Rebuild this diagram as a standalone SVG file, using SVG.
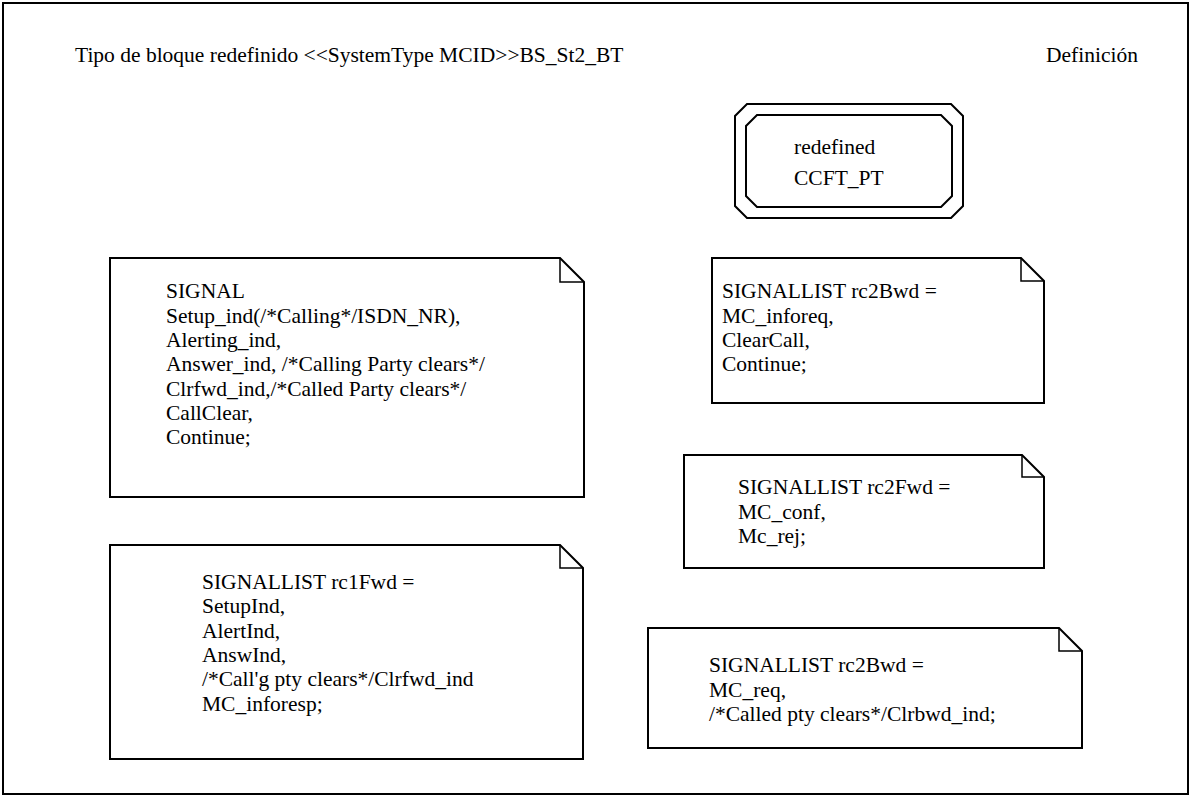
<svg xmlns="http://www.w3.org/2000/svg" width="1192" height="798" viewBox="0 0 1192 798">
<style>
text{font-family:"Liberation Serif",Tinos,Times,"Nimbus Roman","Noto Serif","DejaVu Serif",serif;font-size:21.5px;fill:#000}
.ln{fill:none;stroke:#000;stroke-width:2}
.note{fill:#fff;stroke:#000;stroke-width:2}
.fold{fill:none;stroke:#000;stroke-width:1.5}
</style>
<rect width="1192" height="798" fill="#fff"/>
<g id="frame">
<rect x="3" y="3" width="1185" height="791" class="ln"/>
<text x="75" y="62">Tipo de bloque redefinido &lt;&lt;SystemType MCID&gt;&gt;BS_St2_BT</text>
<text x="1046" y="62">Definición</text>
</g>
<g id="ccft">
<polygon class="ln" points="747,104 951,104 963,116 963,206 951,218 747,218 735,206 735,116"/>
<polygon class="ln" points="757,115 941,115 952,126 952,196 941,207 757,207 746,196 746,126"/>
<text x="794" y="154">redefined</text>
<text x="794" y="185">CCFT_PT</text>
</g>
<g id="note1">
<path class="note" d="M110,258 H560 L584,282 V497 H110 Z"/>
<path class="fold" d="M560,258 V282 H584"/>
<text x="166" y="298">SIGNAL</text>
<text x="166" y="323">Setup_ind(/*Calling*/ISDN_NR),</text>
<text x="166" y="347">Alerting_ind,</text>
<text x="166" y="371">Answer_ind, /*Calling Party clears*/</text>
<text x="166" y="396">Clrfwd_ind,/*Called Party clears*/</text>
<text x="166" y="420">CallClear,</text>
<text x="166" y="444">Continue;</text>
</g>
<g id="note2">
<path class="note" d="M712,258 H1021 L1044,281 V403 H712 Z"/>
<path class="fold" d="M1021,258 V281 H1044"/>
<text x="722" y="298">SIGNALLIST rc2Bwd =</text>
<text x="722" y="323">MC_inforeq,</text>
<text x="722" y="347">ClearCall,</text>
<text x="722" y="371">Continue;</text>
</g>
<g id="note3">
<path class="note" d="M684,455 H1022 L1044,477 V568 H684 Z"/>
<path class="fold" d="M1022,455 V477 H1044"/>
<text x="738" y="494">SIGNALLIST rc2Fwd =</text>
<text x="738" y="519">MC_conf,</text>
<text x="738" y="543">Mc_rej;</text>
</g>
<g id="note4">
<path class="note" d="M110,545 H560 L583,568 V759 H110 Z"/>
<path class="fold" d="M560,545 V568 H583"/>
<text x="202" y="589">SIGNALLIST rc1Fwd =</text>
<text x="202" y="613">SetupInd,</text>
<text x="202" y="638">AlertInd,</text>
<text x="202" y="662">AnswInd,</text>
<text x="202" y="686">/*Call'g pty clears*/Clrfwd_ind</text>
<text x="202" y="711">MC_inforesp;</text>
</g>
<g id="note5">
<path class="note" d="M648,628 H1059 L1082,651 V748 H648 Z"/>
<path class="fold" d="M1059,628 V651 H1082"/>
<text x="709" y="672">SIGNALLIST rc2Bwd =</text>
<text x="709" y="697">MC_req,</text>
<text x="709" y="721">/*Called pty clears*/Clrbwd_ind;</text>
</g>
<g id="connectors"></g>
</svg>
